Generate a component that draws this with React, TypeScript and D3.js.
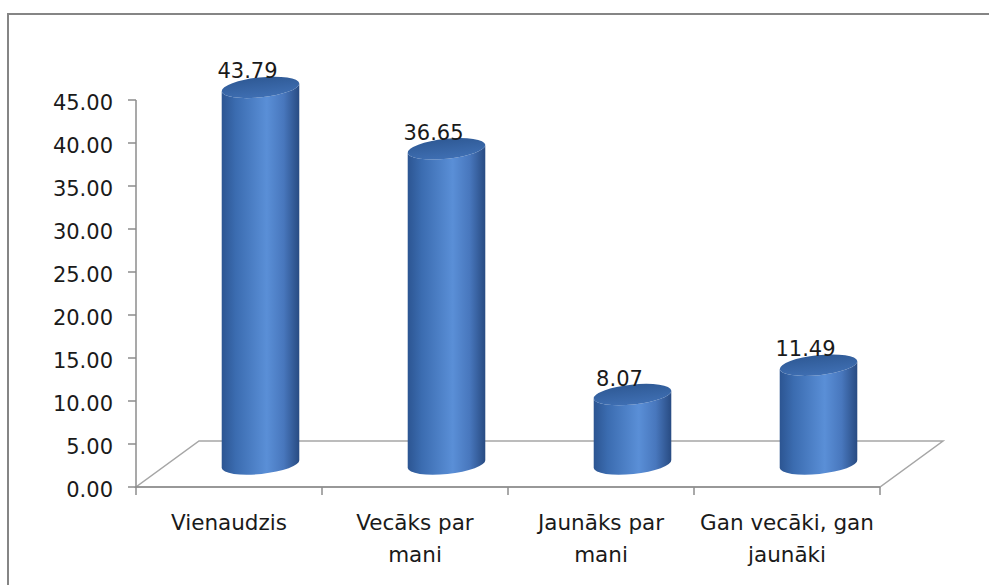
import React from 'react';
import * as d3 from 'd3';

const categories = ['Vienaudzis', 'Vecāks par mani', 'Jaunāks par mani', 'Gan vecāki, gan jaunāki'];
const categoryLines = [['Vienaudzis'], ['Vecāks par', 'mani'], ['Jaunāks par', 'mani'], ['Gan vecāki, gan', 'jaunāki']];
const values = [43.79, 36.65, 8.07, 11.49];
const yTicks = [0, 5, 10, 15, 20, 25, 30, 35, 40, 45];

const width = 989;
const height = 585;
const depth = { dx: 63, dy: -46 };
const tilt = -6;

function Cylinder({ cx, yTop, yBottom, rx, ry }) {
  const a = (tilt * Math.PI) / 180;
  const ex = rx * Math.cos(a);
  const ey = rx * Math.sin(a);
  const body = [
    `M${cx - ex},${yTop - ey}`,
    `L${cx - ex},${yBottom - ey}`,
    `A${rx},${ry} ${tilt} 0 0 ${cx + ex},${yBottom + ey}`,
    `L${cx + ex},${yTop + ey}`,
    `A${rx},${ry} ${tilt} 0 1 ${cx - ex},${yTop - ey}`,
    'Z',
  ].join(' ');

  return (
    <g>
      <path d={body} fill="url(#cylBody)" />
      <ellipse
        cx={cx}
        cy={yTop}
        rx={rx}
        ry={ry}
        transform={`rotate(${tilt} ${cx} ${yTop})`}
        fill="url(#cylTop)"
      />
    </g>
  );
}

export default function App() {
  const x = d3.scaleBand().domain(categories).range([136, 880]).paddingInner(0).paddingOuter(0);
  const y = d3.scaleLinear().domain([0, 45]).range([487, 100]);
  const bw = x.bandwidth();
  const rx = 39;
  const ry = 10;

  const x0 = x.range()[0];
  const x1 = x.range()[1];
  const y0 = y(0);
  const floor = [
    [x0, y0],
    [x1, y0],
    [x1 + depth.dx, y0 + depth.dy],
    [x0 + depth.dx, y0 + depth.dy],
  ];
  const line = d3.line();

  return (
    <svg width={width} height={height} style={{ position: 'absolute', left: 0, top: 0 }}>
      <defs>
        <linearGradient id="cylBody" x1="0" x2="1" y1="0" y2="0">
          <stop offset="0%" stopColor="#2c5592" />
          <stop offset="18%" stopColor="#3b6cb0" />
          <stop offset="58%" stopColor="#5a8fd7" />
          <stop offset="80%" stopColor="#4877bd" />
          <stop offset="100%" stopColor="#284b82" />
        </linearGradient>
        <linearGradient id="cylTop" x1="0" x2="0" y1="0" y2="1">
          <stop offset="0%" stopColor="#2f5a96" />
          <stop offset="100%" stopColor="#3f6fb3" />
        </linearGradient>
      </defs>

      <rect x={0} y={0} width={width} height={height} fill="#ffffff" />
      <rect x={8} y={14} width={1000} height={620} fill="#ffffff" stroke="#858585" strokeWidth={2} />

      <path d={line(floor) + 'Z'} fill="#ffffff" stroke="#a6a6a6" strokeWidth={1.5} />
      <line x1={x0} x2={x1} y1={y0} y2={y0} stroke="#8c8c8c" strokeWidth={1.5} />

      <line x1={136} x2={136} y1={y(45)} y2={y0} stroke="#8c8c8c" strokeWidth={1.5} />
      {yTicks.map(t => (
        <g key={t}>
          <line x1={128} x2={136} y1={y(t)} y2={y(t)} stroke="#8c8c8c" strokeWidth={1.5} />
          <text
            x={113}
            y={y(t) + 9.5}
            textAnchor="end"
            fontFamily="DejaVu Sans"
            fontSize={21}
            fill="#1a1a1a"
          >
            {t.toFixed(2)}
          </text>
        </g>
      ))}

      {categories.concat(['']).map((c, i) => {
        const tx = x0 + i * bw;
        return <line key={i} x1={tx} x2={tx} y1={y0} y2={y0 + 8} stroke="#8c8c8c" strokeWidth={1.5} />;
      })}

      {categories.map((c, i) => {
        const cx = x(c) + bw / 2 + depth.dx / 2;
        const yTop = y(values[i]) + depth.dy / 2;
        const yBottom = y0 + depth.dy / 2;
        return (
          <g key={c}>
            <Cylinder cx={cx} yTop={yTop} yBottom={yBottom} rx={rx} ry={ry} />
            <text
              x={cx - 13}
              y={yTop - ry + 1}
              textAnchor="middle"
              fontFamily="DejaVu Sans"
              fontSize={21}
              fill="#1a1a1a"
            >
              {values[i].toFixed(2)}
            </text>
          </g>
        );
      })}

      {categories.map((c, i) => (
        <text
          key={c}
          x={x(c) + bw / 2}
          y={530}
          textAnchor="middle"
          fontFamily="DejaVu Sans"
          fontSize={21.5}
          fill="#1a1a1a"
        >
          {categoryLines[i].map((l, j) => (
            <tspan key={j} x={x(c) + bw / 2} dy={j === 0 ? 0 : 32}>
              {l}
            </tspan>
          ))}
        </text>
      ))}
    </svg>
  );
}
